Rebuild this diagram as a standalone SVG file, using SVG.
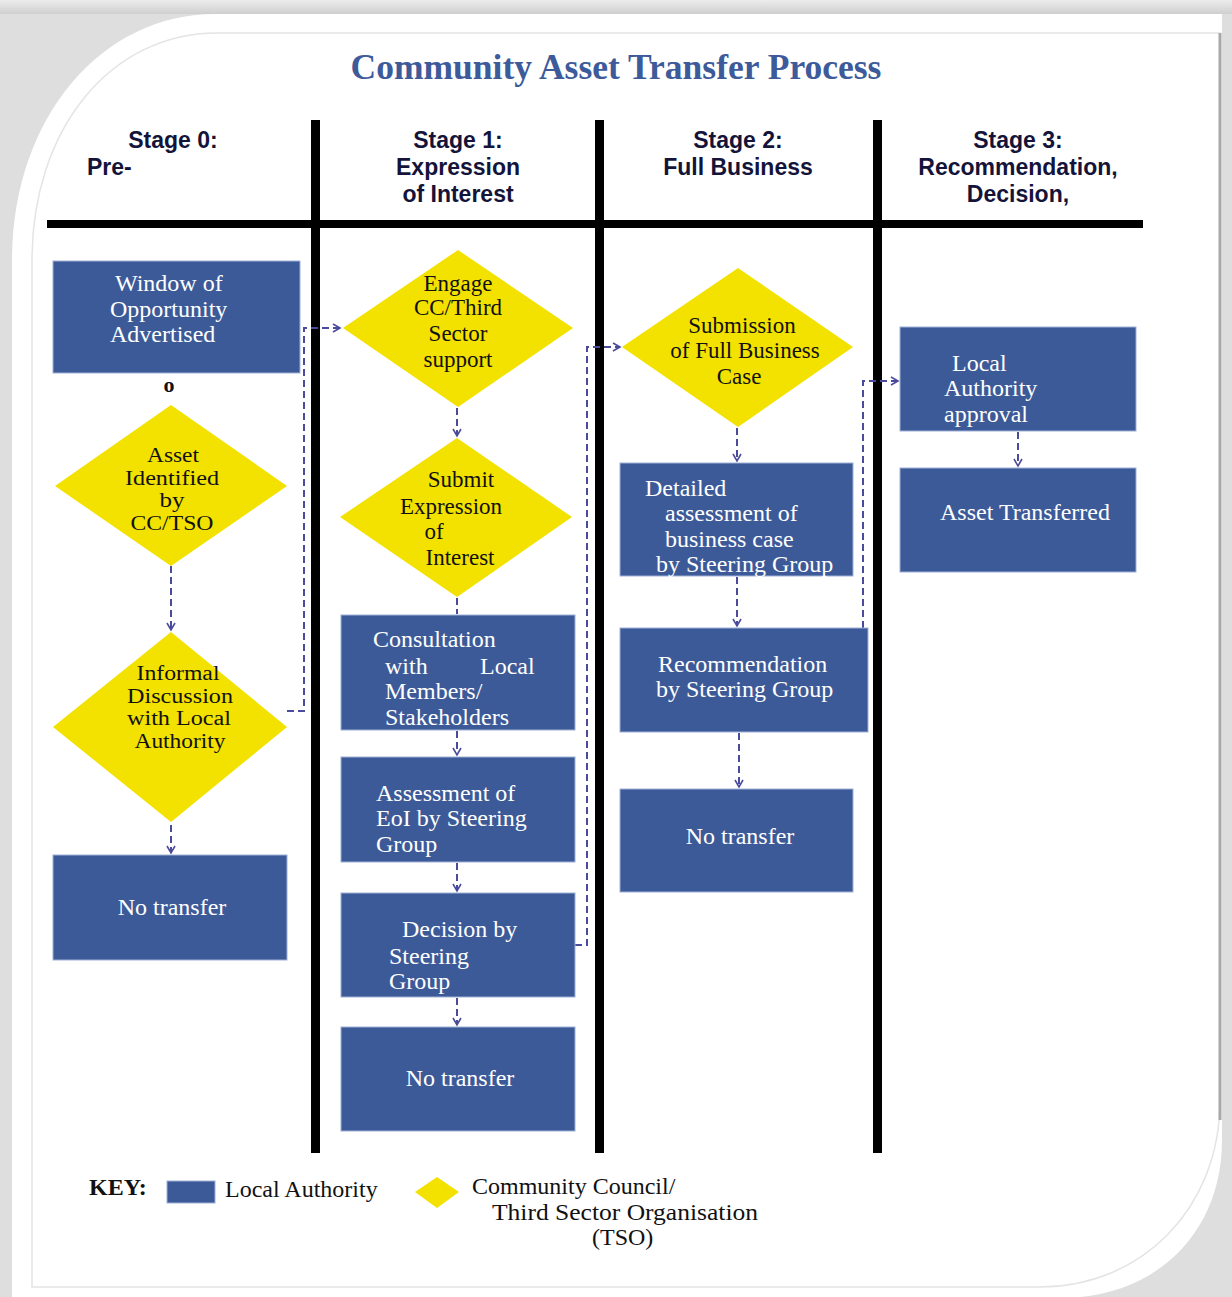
<svg xmlns="http://www.w3.org/2000/svg" width="1232" height="1297" viewBox="0 0 1232 1297">
<defs>
<linearGradient id="topg" x1="0" y1="0" x2="0" y2="1"><stop offset="0" stop-color="#ececec"/><stop offset="1" stop-color="#cfcfcf"/></linearGradient>
<marker id="arr" viewBox="0 0 10 10" refX="8" refY="5" markerWidth="10" markerHeight="10" markerUnits="userSpaceOnUse" orient="auto">
<path d="M1,1 L8,5 L1,9" fill="none" stroke="#4b4b9b" stroke-width="1.6"/>
</marker>
<style>
.box{fill:#3d5a98;stroke:#9fb0d6;stroke-width:1}
.dia{fill:#f3e200}
.bt{font-family:"Liberation Serif","Times New Roman",serif;font-size:24px;fill:#ffffff}
.dt{font-family:"Liberation Serif","Times New Roman",serif;font-size:23px;fill:#111111;text-anchor:middle}
.ds{font-family:"Liberation Serif","Times New Roman",serif;font-size:20px;fill:#111111;text-anchor:middle}
.hd{font-family:"Liberation Sans",Arial,sans-serif;font-size:23px;font-weight:bold;fill:#14143a;text-anchor:middle}
.con{fill:none;stroke:#4b4b9b;stroke-width:2;stroke-dasharray:7,4}
.kt{font-family:"Liberation Serif","Times New Roman",serif;font-size:24px;fill:#111111}
.c{text-anchor:middle}
</style>
</defs>
<!-- background -->
<rect x="0" y="0" width="1232" height="1297" fill="#dedede"/>
<rect x="0" y="0" width="1232" height="14" fill="url(#topg)"/>
<path d="M215,14 L1222,14 L1222,1140 C1222,1230 1160,1290 1080,1297 L12,1297 L12,260 C12,120 100,14 215,14 Z" fill="#ffffff"/>
<path d="M217,33 L1220,33 L1220,1100 C1220,1210 1140,1287 1040,1287 L32,1287 L32,260 C32,130 110,33 217,33 Z" fill="none" stroke="#e4e4e4" stroke-width="1.5"/>
<line x1="1220" y1="33" x2="1220" y2="1120" stroke="#a8a8a8" stroke-width="3"/>

<!-- title -->
<text x="616" y="79" text-anchor="middle" font-family="'Liberation Serif','Times New Roman',serif" font-size="35.5" font-weight="bold" fill="#3d5a9a">Community Asset Transfer Process</text>

<!-- headers -->
<g id="headers">
<text class="hd" x="173" y="148">Stage 0:</text>
<text class="hd" x="87" y="175" style="text-anchor:start">Pre-</text>
<text class="hd" x="458" y="148">Stage 1:</text>
<text class="hd" x="458" y="175">Expression</text>
<text class="hd" x="458" y="202">of Interest</text>
<text class="hd" x="738" y="148">Stage 2:</text>
<text class="hd" x="738" y="175">Full Business</text>
<text class="hd" x="1018" y="148">Stage 3:</text>
<text class="hd" x="1018" y="175">Recommendation,</text>
<text class="hd" x="1018" y="202">Decision,</text>
</g>

<!-- grid lines -->
<g id="grid" fill="#000">
<rect x="47" y="220" width="1096" height="8"/>
<rect x="311" y="120" width="9" height="1033"/>
<rect x="595" y="120" width="9" height="1033"/>
<rect x="873" y="120" width="9" height="1033"/>
</g>

<!-- connectors -->
<g id="connectors">
<path class="con" d="M171,566 V630" marker-end="url(#arr)"/>
<path class="con" d="M171,792 V853" marker-end="url(#arr)"/>
<path class="con" d="M287,711 H304 V328 H340" marker-end="url(#arr)"/>
<path class="con" d="M457,408 V436" marker-end="url(#arr)"/>
<path class="con" d="M457,598 V614"/>
<path class="con" d="M457,731 V755" marker-end="url(#arr)"/>
<path class="con" d="M457,863 V891" marker-end="url(#arr)"/>
<path class="con" d="M457,998 V1025" marker-end="url(#arr)"/>
<path class="con" d="M575,945 H587 V347 H620" marker-end="url(#arr)"/>
<path class="con" d="M737,428 V461" marker-end="url(#arr)"/>
<path class="con" d="M737,577 V626" marker-end="url(#arr)"/>
<path class="con" d="M739,733 V787" marker-end="url(#arr)"/>
<path class="con" d="M863,628 V381 H898" marker-end="url(#arr)"/>
<path class="con" d="M1018,432 V466" marker-end="url(#arr)"/>
</g>

<!-- Stage 0 -->
<g id="n-window">
<rect class="box" x="53" y="261" width="247" height="112"/>
<text class="bt" x="115" y="291">Window  of</text>
<text class="bt" x="110" y="317">Opportunity</text>
<text class="bt" x="110" y="342">Advertised</text>
</g>
<text x="169" y="392" text-anchor="middle" font-family="'Liberation Serif',serif" font-size="22" font-weight="bold" fill="#111">o</text>
<g id="n-asset">
<polygon class="dia" points="171,405 287,486 171,566 55,486"/>
<text class="ds" x="173" y="462" textLength="52" lengthAdjust="spacingAndGlyphs">Asset</text>
<text class="ds" x="172" y="484.5" textLength="94" lengthAdjust="spacingAndGlyphs">Identified</text>
<text class="ds" x="172" y="507" textLength="25" lengthAdjust="spacingAndGlyphs">by</text>
<text class="ds" x="172" y="529.5" textLength="83" lengthAdjust="spacingAndGlyphs">CC/TSO</text>
</g>
<g id="n-informal">
<polygon class="dia" points="171,632 287,727 171,822 53,727"/>
<text class="ds" x="178" y="680" textLength="83" lengthAdjust="spacingAndGlyphs">Informal</text>
<text class="ds" x="180" y="702.5" textLength="106" lengthAdjust="spacingAndGlyphs">Discussion</text>
<text class="ds" x="179" y="725" textLength="104" lengthAdjust="spacingAndGlyphs">with Local</text>
<text class="ds" x="180" y="747.5" textLength="91" lengthAdjust="spacingAndGlyphs">Authority</text>
</g>
<g id="n-notransfer0">
<rect class="box" x="53" y="855" width="234" height="105"/>
<text class="bt c" x="172" y="915">No transfer</text>
</g>

<!-- Stage 1 -->
<g id="n-engage">
<polygon class="dia" points="458,250 573,328 458,407 343,328"/>
<text class="dt" x="458" y="291">Engage</text>
<text class="dt" x="458" y="315">CC/Third</text>
<text class="dt" x="458" y="341">Sector</text>
<text class="dt" x="458" y="367">support</text>
</g>
<g id="n-submit">
<polygon class="dia" points="457,438 572,517 457,597 340,517"/>
<text class="dt" x="461" y="487">Submit</text>
<text class="dt" x="451" y="514">Expression</text>
<text class="dt" x="434" y="539">of</text>
<text class="dt" x="460" y="565">Interest</text>
</g>
<g id="n-consult">
<rect class="box" x="341" y="615" width="234" height="115"/>
<text class="bt" x="373" y="647">Consultation</text>
<text class="bt" x="385" y="674">with</text>
<text class="bt" x="480" y="674">Local</text>
<text class="bt" x="385" y="699">Members/</text>
<text class="bt" x="385" y="725">Stakeholders</text>
</g>
<g id="n-assess">
<rect class="box" x="341" y="757" width="234" height="105"/>
<text class="bt" x="376" y="801">Assessment of</text>
<text class="bt" x="376" y="826">EoI by Steering</text>
<text class="bt" x="376" y="852">Group</text>
</g>
<g id="n-decision">
<rect class="box" x="341" y="893" width="234" height="104"/>
<text class="bt" x="402" y="937">Decision by</text>
<text class="bt" x="389" y="964">Steering</text>
<text class="bt" x="389" y="989">Group</text>
</g>
<g id="n-notransfer1">
<rect class="box" x="341" y="1027" width="234" height="104"/>
<text class="bt c" x="460" y="1086">No transfer</text>
</g>

<!-- Stage 2 -->
<g id="n-submission">
<polygon class="dia" points="738,268 853,347 738,427 622,347"/>
<text class="dt" x="742" y="333">Submission</text>
<text class="dt" x="745" y="358">of Full Business</text>
<text class="dt" x="739" y="384">Case</text>
</g>
<g id="n-detailed">
<rect class="box" x="620" y="463" width="233" height="113"/>
<text class="bt" x="645" y="496">Detailed</text>
<text class="bt" x="665" y="521">assessment of</text>
<text class="bt" x="665" y="547">business case</text>
<text class="bt" x="656" y="572">by Steering Group</text>
</g>
<g id="n-recommend">
<rect class="box" x="620" y="628" width="248" height="104"/>
<text class="bt" x="658" y="672">Recommendation</text>
<text class="bt" x="656" y="697">by Steering Group</text>
</g>
<g id="n-notransfer2">
<rect class="box" x="620" y="789" width="233" height="103"/>
<text class="bt c" x="740" y="844">No transfer</text>
</g>

<!-- Stage 3 -->
<g id="n-approval">
<rect class="box" x="900" y="327" width="236" height="104"/>
<text class="bt" x="952" y="371">Local</text>
<text class="bt" x="944" y="396">Authority</text>
<text class="bt" x="944" y="422">approval</text>
</g>
<g id="n-transferred">
<rect class="box" x="900" y="468" width="236" height="104"/>
<text class="bt c" x="1025" y="520">Asset Transferred</text>
</g>

<!-- key -->
<g id="key">
<text class="kt" x="89" y="1195" font-weight="bold">KEY:</text>
<rect class="box" x="167" y="1181" width="48" height="22"/>
<text class="kt" x="225" y="1197">Local  Authority</text>
<polygon class="dia" points="437,1177 459,1192 437,1208 415,1192"/>
<text class="kt" x="472" y="1194">Community  Council/</text>
<text class="kt" x="492" y="1220" textLength="266" lengthAdjust="spacingAndGlyphs">Third Sector Organisation</text>
<text class="kt" x="592" y="1245">(TSO)</text>
</g>
</svg>
